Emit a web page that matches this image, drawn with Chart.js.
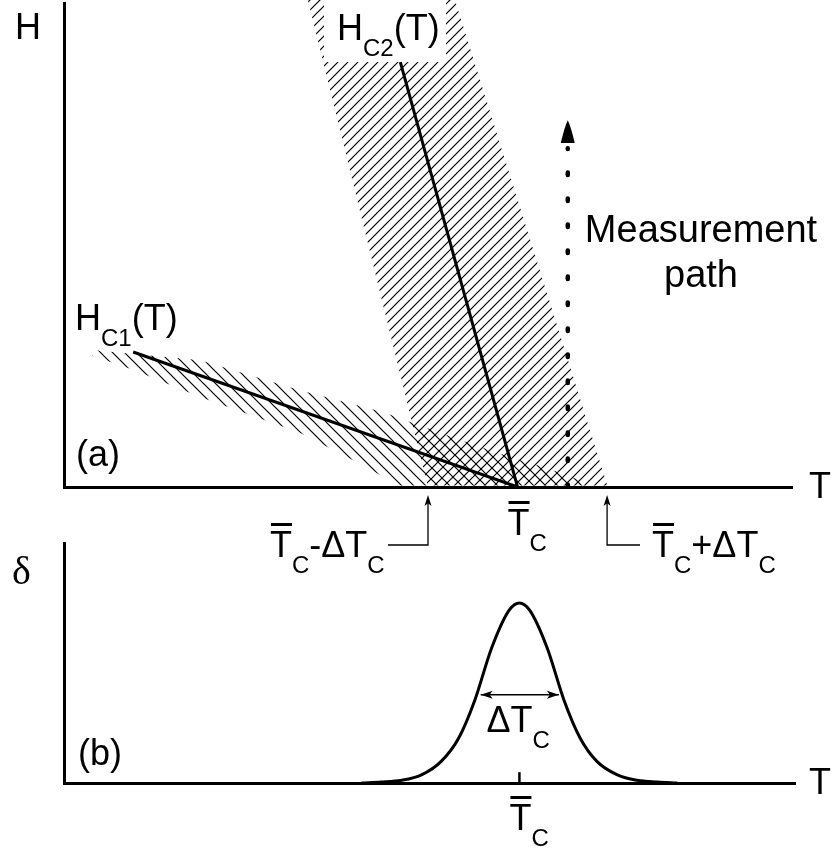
<!DOCTYPE html>
<html>
<head>
<meta charset="utf-8">
<script src="https://cdn.jsdelivr.net/npm/chart.js@4.4.0/dist/chart.umd.min.js"></script>
<style>
    html, body { margin: 0; padding: 0; background: #fff; }
    #wrap { position: relative; width: 833px; height: 851px; overflow: hidden; }
    canvas { position: absolute; left: 0; }
    #chartA { top: 0; width: 833px; height: 600px; }
    #chartB { top: 530px; width: 833px; height: 321px; }
</style>
</head>
<body>
<div id="wrap">
    <canvas id="chartA" width="833" height="600"></canvas>
    <canvas id="chartB" width="833" height="321"></canvas>
</div>
<script>
// Critical temperature and its spread (T in arbitrary units, axis 0..100)
const tc = 62.3;
const tcLow = 50.0;
const tcHigh = 74.6;

// Panel (a): critical field lines
const hc1T = [9.5, 62.3];
const hc1H = [27.9, 0];
const hc2T = [46.2, 62.3];
const hc2H = [87.8, 0];

// Panel (a): hatched bands (outline points)
const hc2BandT = [33.5, 53.7, 74.7, 50.0];
const hc2BandH = [100.6, 100.6, 0, 0];
const hc1BandT = [3.85, 18.7, 32.4, 43.8, 47.9, 52.6, 57.1, 61.7, 66.3, 70.9, 72.7, 46.2, 41.6, 32.4, 18.7, 9.5, 3.85];
const hc1BandH = [28.3, 26.2, 20.0, 15.5, 13.2, 10.7, 8.3, 6.0, 3.9, 1.4, 0, 0, 4.1, 11.2, 18.6, 24.2, 27.1];

// Panel (a): measurement path
const pathT = 69.2;
const pathH = [0, 70];
const pathTipH = 75.8;
const pathBaseH = 71.1;

// Panel (b): transition width curve
const deltaT = [40.7, 43.4, 46.2, 48.9, 51.6, 54.0, 56.2, 58.5, 60.9, 62.3, 63.7, 66.1, 68.4, 70.6, 72.9, 75.7, 78.4, 81.2, 83.9];
const deltaV = [0, 0.005, 0.015, 0.045, 0.12, 0.25, 0.46, 0.75, 0.96, 1.0, 0.96, 0.75, 0.46, 0.25, 0.12, 0.045, 0.015, 0.005, 0];
const fwhmT = [57.0, 67.7];
const fwhmV = 0.49;
const tickV = [0, 0.06];

const SANS = '"Liberation Sans", Arial, sans-serif';

function zip(xs, ys) {
    return xs.map((v, i) => ({ x: v, y: ys[i] }));
}

// draw text made of parts: normal, 's' subscript, 'b' overbar
function rich(ctx, x, y, parts) {
    let cx = x;
    parts.forEach(([txt, kind]) => {
        const sub = kind === 's';
        ctx.font = (sub ? 24 : 36) + 'px ' + SANS;
        const w = ctx.measureText(txt).width;
        ctx.fillText(txt, cx, sub ? y + 16 : y);
        if (kind === 'b') {
            ctx.fillRect(cx + 1, y - 34, w - 1, 3);
        }
        cx += w;
    });
}

function makeHatch(ctx, step, rising) {
    const c = document.createElement('canvas');
    c.width = step;
    c.height = step;
    const g = c.getContext('2d');
    g.strokeStyle = '#000';
    g.lineWidth = 1.2;
    g.beginPath();
    if (rising) {
        g.moveTo(-1, step + 1); g.lineTo(step + 1, -1);
        g.moveTo(-1, 1); g.lineTo(1, -1);
        g.moveTo(step - 1, step + 1); g.lineTo(step + 1, step - 1);
    } else {
        g.moveTo(-1, -1); g.lineTo(step + 1, step + 1);
        g.moveTo(step - 1, -1); g.lineTo(step + 1, 1);
        g.moveTo(-1, step - 1); g.lineTo(1, step + 1);
    }
    g.stroke();
    return ctx.createPattern(c, 'repeat');
}

function fillPoly(ctx, xs, ys, ts, hs, pattern) {
    ctx.beginPath();
    ts.forEach((t, i) => {
        const px = xs.getPixelForValue(t);
        const py = ys.getPixelForValue(hs[i]);
        if (i === 0) ctx.moveTo(px, py); else ctx.lineTo(px, py);
    });
    ctx.closePath();
    ctx.fillStyle = pattern;
    ctx.fill();
}

function arrowHead(ctx, x, y, dx, dy, len, half) {
    // tip at (x,y), pointing along (dx,dy)
    const bx = x - dx * len, by = y - dy * len;
    ctx.beginPath();
    ctx.moveTo(x, y);
    ctx.lineTo(bx - dy * half, by + dx * half);
    ctx.lineTo(x - dx * len * 0.75, y - dy * len * 0.75);
    ctx.lineTo(bx + dy * half, by - dx * half);
    ctx.closePath();
    ctx.fill();
}

const hiddenScale = (min, max) => ({
    type: 'linear',
    min: min,
    max: max,
    ticks: { display: false },
    grid: { display: false, drawTicks: false },
    border: { display: true, color: '#000', width: 3 }
});

const hatchPlugin = {
    id: 'hatch',
    beforeDatasetsDraw(chart) {
        const { ctx, chartArea, scales: { x, y } } = chart;
        ctx.save();
        ctx.beginPath();
        ctx.rect(chartArea.left + 1.5, 0, chartArea.right - chartArea.left, chartArea.bottom - 1.5);
        ctx.clip();
        fillPoly(ctx, x, y, hc1BandT, hc1BandH, makeHatch(ctx, 12, false));
        fillPoly(ctx, x, y, hc2BandT, hc2BandH, makeHatch(ctx, 10, true));
        // blank box behind the Hc2 label
        ctx.fillStyle = '#fff';
        ctx.fillRect(324, 0, 122, y.getPixelForValue(hc2H[0]));
        ctx.restore();
    }
};

const labelsA = {
    id: 'labelsA',
    afterDraw(chart) {
        const { ctx, scales: { x, y } } = chart;
        const xc = x.getPixelForValue(tc);
        ctx.save();
        ctx.fillStyle = '#000';
        ctx.strokeStyle = '#000';
        ctx.textBaseline = 'alphabetic';
        ctx.textAlign = 'left';
        rich(ctx, 15, 39, [['H']]);
        rich(ctx, 337, 40, [['H'], ['C2', 's'], ['(T)']]);
        rich(ctx, 75, 330, [['H'], ['C1', 's'], ['(T)']]);
        rich(ctx, 76, 466, [['(a)']]);
        rich(ctx, 809, 498, [['T']]);
        rich(ctx, xc - 10, 535, [['T', 'b'], ['C', 's']]);
        rich(ctx, 270, 557, [['T', 'b'], ['C', 's'], ['-ΔT'], ['C', 's']]);
        rich(ctx, 652, 557, [['T', 'b'], ['C', 's'], ['+ΔT'], ['C', 's']]);

        ctx.textAlign = 'center';
        ctx.font = '38px ' + SANS;
        ctx.fillText('Measurement', 701, 242);
        ctx.fillText('path', 701, 287);

        // arrows pointing at Tc - dTc and Tc + dTc
        const xl = x.getPixelForValue(tcLow);
        const xr = x.getPixelForValue(tcHigh);
        ctx.lineWidth = 1.3;
        ctx.beginPath();
        ctx.moveTo(388, 545); ctx.lineTo(xl, 545); ctx.lineTo(xl, 503);
        ctx.moveTo(640, 545); ctx.lineTo(xr, 545); ctx.lineTo(xr, 503);
        ctx.stroke();
        arrowHead(ctx, xl, 495, 0, -1, 11, 3.5);
        arrowHead(ctx, xr, 495, 0, -1, 11, 3.5);

        // head of the measurement path
        const px = x.getPixelForValue(pathT);
        const tipY = y.getPixelForValue(pathTipH);
        const baseY = y.getPixelForValue(pathBaseH);
        ctx.beginPath();
        ctx.moveTo(px, tipY);
        ctx.quadraticCurveTo(px + 3, tipY + 6, px + 7, baseY);
        ctx.lineTo(px - 7, baseY);
        ctx.quadraticCurveTo(px - 3, tipY + 6, px, tipY);
        ctx.fill();
        ctx.restore();
    }
};

const labelsB = {
    id: 'labelsB',
    afterDraw(chart) {
        const { ctx, scales: { x, y } } = chart;
        const xc = x.getPixelForValue(tc);
        ctx.save();
        ctx.fillStyle = '#000';
        ctx.strokeStyle = '#000';
        ctx.textBaseline = 'alphabetic';
        ctx.textAlign = 'left';
        ctx.font = '40px "Liberation Serif", "Times New Roman", serif';
        ctx.fillText('δ', 12, 54);
        rich(ctx, 78, 235, [['(b)']]);
        rich(ctx, 809, 264, [['T']]);
        rich(ctx, xc - 10, 300, [['T', 'b'], ['C', 's']]);
        rich(ctx, xc - 33, 202, [['ΔT'], ['C', 's']]);

        const x1 = x.getPixelForValue(fwhmT[0]);
        const x2 = x.getPixelForValue(fwhmT[1]);
        const yy = y.getPixelForValue(fwhmV);
        arrowHead(ctx, x1, yy, -1, 0, 12, 4);
        arrowHead(ctx, x2, yy, 1, 0, 12, 4);
        ctx.restore();
    }
};

window.onload = function() {
    new Chart(document.getElementById('chartA'), {
        type: 'scatter',
        data: {
            datasets: [
                {
                    data: zip(hc2T, hc2H),
                    showLine: true,
                    borderColor: '#000',
                    borderWidth: 3,
                    pointRadius: 0
                },
                {
                    data: zip(hc1T, hc1H),
                    showLine: true,
                    borderColor: '#000',
                    borderWidth: 3,
                    pointRadius: 0
                },
                {
                    data: zip([pathT, pathT], pathH),
                    showLine: true,
                    borderColor: '#000',
                    borderWidth: 4.5,
                    borderDash: [2.5, 23.5],
                    borderCapStyle: 'round',
                    pointRadius: 0
                }
            ]
        },
        options: {
            responsive: false,
            animation: false,
            layout: { padding: { left: 64, right: 41, top: 3, bottom: 113 } },
            plugins: { legend: { display: false }, tooltip: { enabled: false } },
            scales: {
                x: hiddenScale(0, 100),
                y: hiddenScale(0, 100)
            }
        },
        plugins: [hatchPlugin, labelsA]
    });

    new Chart(document.getElementById('chartB'), {
        type: 'scatter',
        data: {
            datasets: [
                {
                    data: zip(deltaT, deltaV),
                    showLine: true,
                    borderColor: '#000',
                    borderWidth: 3,
                    pointRadius: 0,
                    cubicInterpolationMode: 'monotone'
                },
                {
                    data: zip([tc, tc], tickV),
                    showLine: true,
                    borderColor: '#000',
                    borderWidth: 2.5,
                    pointRadius: 0
                },
                {
                    data: zip(fwhmT, [fwhmV, fwhmV]),
                    showLine: true,
                    borderColor: '#000',
                    borderWidth: 1.5,
                    pointRadius: 0
                }
            ]
        },
        options: {
            responsive: false,
            animation: false,
            layout: { padding: { left: 64, right: 38, top: 13, bottom: 68 } },
            plugins: { legend: { display: false }, tooltip: { enabled: false } },
            scales: {
                x: hiddenScale(0, 100),
                y: hiddenScale(0, 1.333)
            }
        },
        plugins: [labelsB]
    });
};
</script>
</body>
</html>
